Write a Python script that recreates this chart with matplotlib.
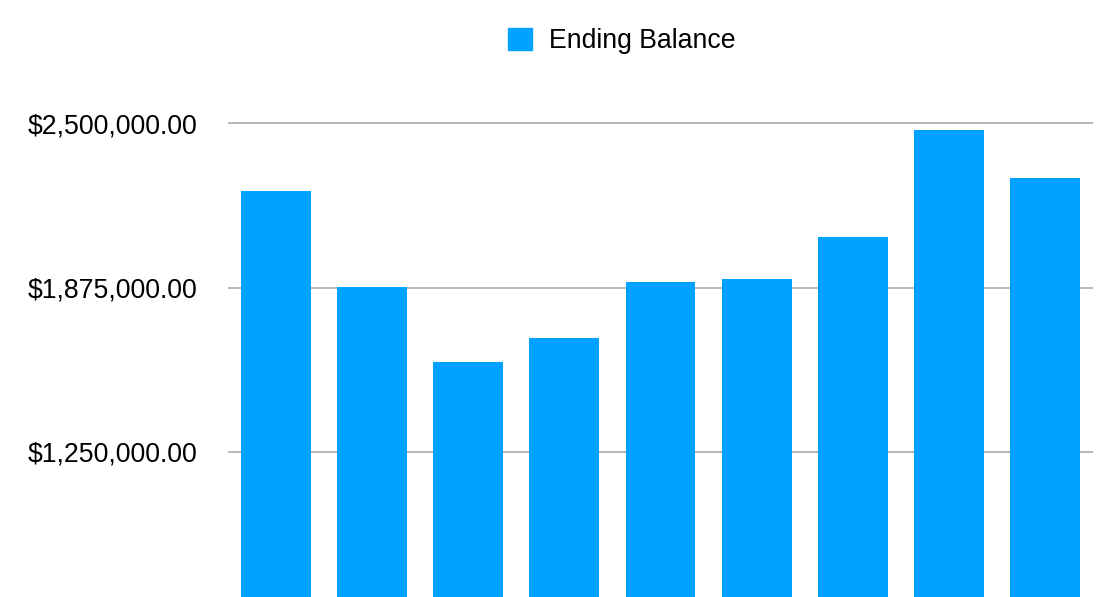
import matplotlib.pyplot as plt
from matplotlib.patches import Patch
from matplotlib.ticker import FuncFormatter

# data
periods = ["1", "2", "3", "4", "5", "6", "7", "8", "9"]
ending_balance = [2242000, 1877000, 1591000, 1683000, 1896000,
                  1907000, 2067000, 2474000, 2292000]
y_ticks = [1250000, 1875000, 2500000]

bar_color = "#00A2FF"
grid_color = "#b8b8b8"

plt.rcParams["font.family"] = ["Liberation Sans", "DejaVu Sans"]

fig = plt.figure(figsize=(11.10, 5.97), dpi=100)
W, H = 1110, 597
ax = fig.add_axes([228 / W, 0, (1093 - 228) / W, (H - 100) / H])

x = range(len(periods))
ax.bar(x, ending_balance, width=0.728, color=bar_color, zorder=3)

ax.set_xlim(-0.5, len(periods) - 0.5)
ax.set_ylim(697000, 2588700)
ax.set_yticks(y_ticks)
ax.yaxis.set_major_formatter(FuncFormatter(lambda v, p: f"${v:,.2f}"))
ax.tick_params(axis="y", length=0, pad=22, labelsize=19.2)
ax.set_xticks([])
ax.grid(axis="y", color=grid_color, linewidth=1.4, zorder=0)
for s in ax.spines.values():
    s.set_visible(False)

fig.legend(handles=[Patch(color=bar_color, label="Ending Balance")],
           loc="center", bbox_to_anchor=(621.5 / W, 1 - 41 / H),
           frameon=False, fontsize=19.2, handlelength=0.9,
           handleheight=0.9, handletextpad=0.64)

fig.savefig("out.png", dpi=100)
